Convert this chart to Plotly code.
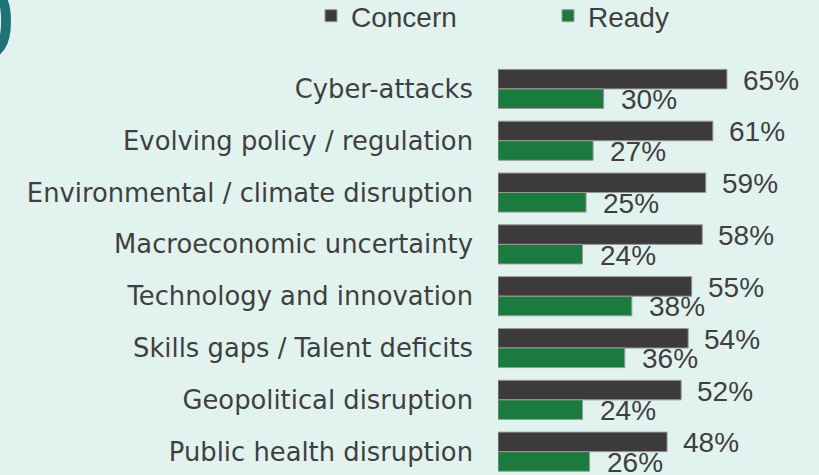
import plotly.graph_objects as go

categories = [
    "Cyber-attacks",
    "Evolving policy / regulation",
    "Environmental / climate disruption",
    "Macroeconomic uncertainty",
    "Technology and innovation",
    "Skills gaps / Talent deficits",
    "Geopolitical disruption",
    "Public health disruption",
]
concern = [65, 61, 59, 58, 55, 54, 52, 48]
ready = [30, 27, 25, 24, 38, 36, 24, 26]
series_names = ["Concern", "Ready"]

BG = "#e2f3ef"
C_CONCERN = "#3d3a3b"
C_READY = "#1b7b3e"
TXT = "#3f3f3f"
BARGAP = 0.245

W, H = 819, 475
ML, MR, MT, MB = 498, 4, 63, 0
PW, PH = W - ML - MR, H - MT - MB

fig = go.Figure()
fig.add_trace(go.Bar(
    y=categories, x=concern, name=series_names[0], orientation="h",
    marker=dict(color=C_CONCERN, line=dict(color="#9a9a9a", width=1)),
))
fig.add_trace(go.Bar(
    y=categories, x=ready, name=series_names[1], orientation="h",
    marker=dict(color=C_READY, line=dict(color="#9a9a9a", width=1)),
))

off = (1 - BARGAP) / 4
annotations = []
for i, (c, r) in enumerate(zip(concern, ready)):
    annotations.append(dict(
        x=c, y=i - off, xref="x", yref="y", text=f"{c}%", showarrow=False,
        xanchor="left", yanchor="middle", xshift=14, yshift=-1,
        font=dict(family="Liberation Sans, Arial", size=28, color=TXT),
    ))
    annotations.append(dict(
        x=r, y=i + off, xref="x", yref="y", text=f"{r}%", showarrow=False,
        xanchor="left", yanchor="middle", xshift=15, yshift=-1,
        font=dict(family="Liberation Sans, Arial", size=28, color=TXT),
    ))

# partial large heading glyph at top-left (cut by the page edge)
annotations.append(dict(
    xref="paper", yref="paper",
    x=(20 - ML) / PW, y=1 + (MT - 24) / PH,
    xanchor="right", yanchor="middle",
    text="0", showarrow=False,
    font=dict(family="DejaVu Sans", size=100, color="#1f7378"),
))

fig.update_layout(
    width=W, height=H,
    paper_bgcolor=BG, plot_bgcolor=BG,
    margin=dict(l=ML, r=MR, t=MT, b=MB, autoexpand=False),
    barmode="group", bargap=BARGAP, bargroupgap=0,
    showlegend=True,
    legend=dict(
        orientation="h", xref="paper", yref="paper",
        x=(311 - ML) / PW, y=1 + (MT + 9) / PH, xanchor="left", yanchor="top",
        font=dict(family="Liberation Sans, Arial", size=28, color=TXT),
        bgcolor="rgba(0,0,0,0)", entrywidth=192, entrywidthmode="pixels",
        traceorder="normal",
    ),
    annotations=annotations,
    xaxis=dict(range=[0, 90], visible=False, fixedrange=True),
    yaxis=dict(
        autorange=False, range=[7.45, -0.5], type="category",
        tickfont=dict(family="DejaVu Sans", size=25.8, color=TXT),
        ticklabelstandoff=24, showgrid=False, zeroline=False, showline=False,
        ticks="", fixedrange=True,
    ),
)

fig.write_html(
    "out.html",
    config={"displayModeBar": False},
    post_script="document.body.style.margin='0';",
)
